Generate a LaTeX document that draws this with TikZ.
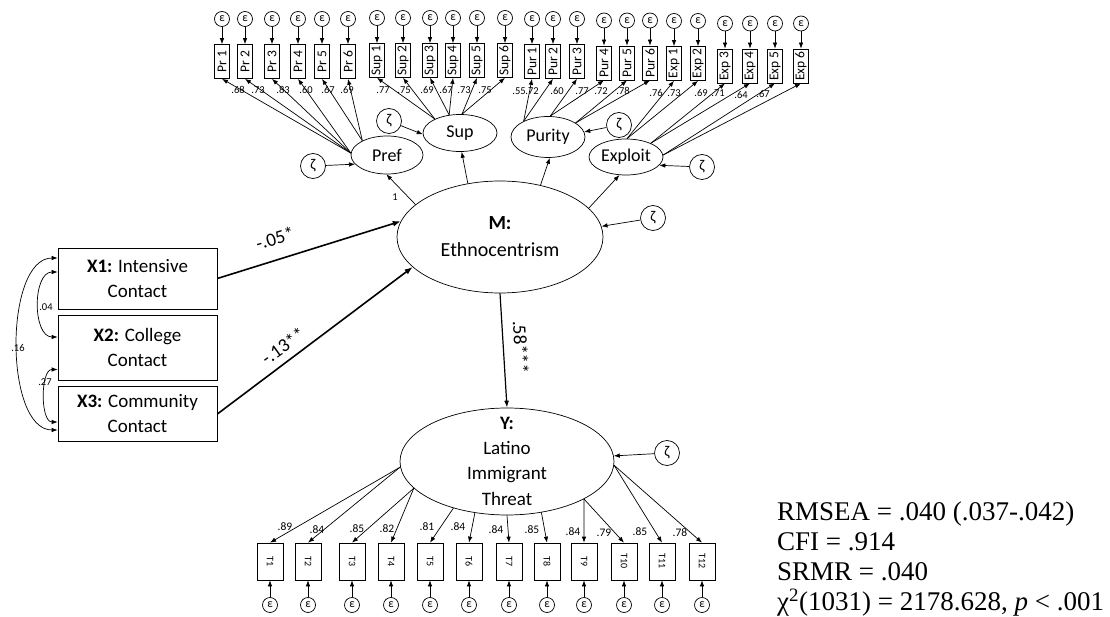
\documentclass[tikz,border=0pt]{standalone}
\usepackage{fontspec}
\setmainfont{Carlito}
\newfontfamily\statfont{Liberation Serif}
\usetikzlibrary{arrows.meta,shapes.geometric}

\tikzset{
  lat/.style={ellipse, draw, line width=0.7pt, inner sep=0pt},
  ind/.style={draw, line width=0.7pt, inner sep=0.5pt, minimum width=34pt, minimum height=15pt,
              font=\fontsize{13.5}{14}\selectfont},
  tind/.style={draw, line width=0.7pt, inner sep=0pt, minimum width=37pt, minimum height=26pt,
              font=\fontsize{10}{11}\selectfont},
  errc/.style={circle, draw, line width=0.7pt, minimum size=15pt, inner sep=0pt,
              font=\fontsize{12}{12}\selectfont},
  distc/.style={circle, draw, line width=0.7pt, minimum size=25pt, inner sep=0pt,
              font=\fontsize{15}{15}\selectfont},
  xbox/.style={draw, line width=0.7pt, minimum width=159pt, align=center,
              font=\fontsize{19}{25}\selectfont},
  arr/.style={-{Latex[length=6pt,width=4.5pt]}, line width=0.7pt},
  thick arr/.style={-{Latex[length=8pt,width=6pt]}, line width=1.6pt},
  cov/.style={{Latex[length=6pt,width=4.5pt]}-{Latex[length=6pt,width=4.5pt]}, line width=0.7pt},
  load/.style={inner sep=0pt, font=\fontsize{10.5}{11}\selectfont},
  tload/.style={inner sep=0pt, font=\fontsize{11.5}{12}\selectfont},
  coef/.style={inner sep=0pt, font=\fontsize{19}{20}\selectfont},
}

\begin{document}
\begin{tikzpicture}[x=1pt,y=-1pt]
\useasboundingbox (0,0) rectangle (1110,617);

% first-order factors
\node[lat, minimum width=72pt, minimum height=38pt, font=\fontsize{18}{18}\selectfont] (Pref) at (387,155) {Pref};
\node[lat, minimum width=74pt, minimum height=37pt, font=\fontsize{18}{18}\selectfont] (Sup) at (460,133) {Sup};
\node[lat, minimum width=74pt, minimum height=41pt, font=\fontsize{18}{18}\selectfont] (Purity) at (548,137) {Purity};
\node[lat, minimum width=74pt, minimum height=36pt, font=\fontsize{18}{18}\selectfont] (Exploit) at (626,157) {Exploit};

% mediator and outcome
\node[lat, minimum width=206pt, minimum height=112pt, align=center, font=\fontsize{20}{27}\selectfont] (M) at (500,237)
  {\textbf{M:}\\Ethnocentrism};
\node[lat, minimum width=214pt, minimum height=107pt] (Y) at (507,461.5) {};
\node[align=center, inner sep=0pt, font=\fontsize{19}{25.3}\selectfont] (Ytext) at (507,461) {\textbf{Y:}\\Latino\\Immigrant\\Threat};

% predictors
\node[xbox, minimum height=61pt] (X1) at (137.5,278.5) {\textbf{X1:} Intensive\\Contact};
\node[xbox, minimum height=65pt] (X2) at (137.5,347.5) {\textbf{X2:} College\\Contact};
\node[xbox, minimum height=55pt] (X3) at (137.5,414) {\textbf{X3:} Community\\Contact};

% indicators of the first-order factors
\foreach \n/\t/\x/\y/\s/\lx/\ly/\v in {
  pra/Pr 1/222/61.5/Pref.177/238/90/.68,
  prb/Pr 2/245/61.5/Pref.177/258/90/.73,
  prc/Pr 3/272/61.5/Pref.177/283/90/.83,
  prd/Pr 4/298/61.5/Pref.177/306/90/.60,
  pre/Pr 5/322/61.5/Pref.150/328/90/.67,
  prf/Pr 6/348/61.5/Pref.150/347/90/.69,
  sua/Sup 1/377/60.5/Sup.151/383/90/.77,
  sub/Sup 2/403/60.5/Sup.151/404/90/.75,
  suc/Sup 3/430/60.5/Sup.121/427/90/.69,
  sud/Sup 4/453/60.5/Sup.121/446/90/.67,
  sue/Sup 5/477/60.5/Sup.84/464/90/.73,
  suf/Sup 6/505/60.5/Sup.84/485/90/.75,
  pua/Pur 1/532/61.5/Purity.147/519/91/.55,
  pub/Pur 2/553/61.5/Purity.147/532/91/.72,
  puc/Pur 3/577/61.5/Purity.84/557/91/.60,
  pud/Pur 4/604/63/Purity.84/582/91/.77,
  pue/Pur 5/627/63/Purity.27/601/91/.72,
  puf/Pur 6/650/63/Purity.27/623/91/.78,
  exa/Exp 1/674/63.5/Exploit.87/656/93/.76,
  exb/Exp 2/698/63.5/Exploit.87/674/93/.73,
  exc/Exp 3/725/66/Exploit.29/701/93/.69,
  exd/Exp 4/750/66/Exploit.29/718/93/.71,
  exe/Exp 5/775/66/Exploit.3/741/95/.64,
  exf/Exp 6/801/66/Exploit.3/763/94/.67} {
  \node[ind, rotate=90] (\n) at (\x,\y) {\t};
  \node[errc] (e\n) at (\x,\y-42.5) {ε};
  \draw[arr] (e\n) -- (\n.east);
  \draw[arr] (\s) -- (\n.west);
  \node[load] (l\n) at (\lx,\ly) {\v};
}

% disturbances of the first-order factors
\node[distc] (zPref) at (313,166) {ζ};
\node[distc] (zSup) at (389,121) {ζ};
\node[distc] (zPur) at (619,125) {ζ};
\node[distc] (zExp) at (702,167) {ζ};
\draw[arr] (zPref) -- (Pref.196);
\draw[arr] (zSup) -- (Sup.182);
\draw[arr] (zPur) -- (Purity.8);
\draw[arr] (zExp) -- (Exploit.346);

% second-order loadings
\draw[arr] (M.159) -- (Pref.268);
\node[load] (one) at (395,197) {1};
\draw[arr] (M.121) -- (Sup.275);
\draw[arr] (M.52) -- (Purity.275);
\draw[arr] (M.18) -- (Exploit.250);

% disturbances of M and Y
\node[distc] (zM) at (653,218) {ζ};
\draw[arr] (zM) -- (M.6);
\node[distc] (zY) at (667,453) {ζ};
\draw[arr] (zY) -- (Y.3);

% structural paths
\draw[thick arr] (X1.east) -- (M.171);
\node[coef, rotate=17] (c1) at (275,238) {-.05*};
\draw[thick arr] (X3.east) -- (M.199);
\node[coef, rotate=36] (c3) at (283,346) {-.13**};
\draw[-{Latex[length=7pt,width=5pt]}, line width=1.2pt] (M.south) -- (Y.north);
\node[coef, rotate=-87] (c4) at (521,347) {.58***};

% covariances among predictors
\draw[cov] ([yshift=6.5pt]X1.west) to[out=180,in=180] ([yshift=10.5pt]X2.west);
\draw[cov] ([yshift=-22pt]X2.west) to[out=180,in=180,looseness=0.85] ([yshift=-8pt]X3.west);
\draw[cov] ([yshift=20.5pt]X1.west) to[out=180,in=180,looseness=0.8] ([yshift=-16pt]X3.west);
\node[load] (r12) at (46,307) {.04};
\node[load] (r23) at (45,382) {.27};
\node[load] (r13) at (18,348) {.16};

% indicators of the outcome
\foreach \n/\t/\x/\s/\lx/\ly/\v in {
  ta/T1/270/Y.183/285/527/.89,
  tb/T2/308/Y.183/317/530/.84,
  tc/T3/352/Y.196/357/529/.85,
  td/T4/391/Y.196/387/529/.82,
  te/T5/430/Y.221/427/527/.81,
  tf/T6/469/Y.238/458/527/.84,
  tg/T7/509/Y.270/496/530/.84,
  th/T8/547/Y.304/532/530/.85,
  ti/T9/584/Y.334/573/532/.84,
  tj/T10/624/Y.334/604/533/.79,
  tk/T11/662/Y.358/640/532/.85,
  tl/T12/702/Y.358/680/533/.78} {
  \node[tind, rotate=-90] (\n) at (\x,561.5) {\t};
  \node[errc] (e\n) at (\x,605) {ε};
  \draw[arr] (e\n) -- (\n.east);
  \draw[arr] (\s) -- (\n.west);
  \node[tload] (l\n) at (\lx,\ly) {\v};
}

% fit statistics
\node[anchor=west, align=left, inner sep=0pt, font=\statfont\fontsize{27}{30.3}\selectfont] (fit) at (777,559)
  {RMSEA = .040 (.037-.042)\\CFI = .914\\SRMR = .040\\χ\textsuperscript{2}(1031) = 2178.628, \textit{p} < .001};
\end{tikzpicture}
\end{document}
